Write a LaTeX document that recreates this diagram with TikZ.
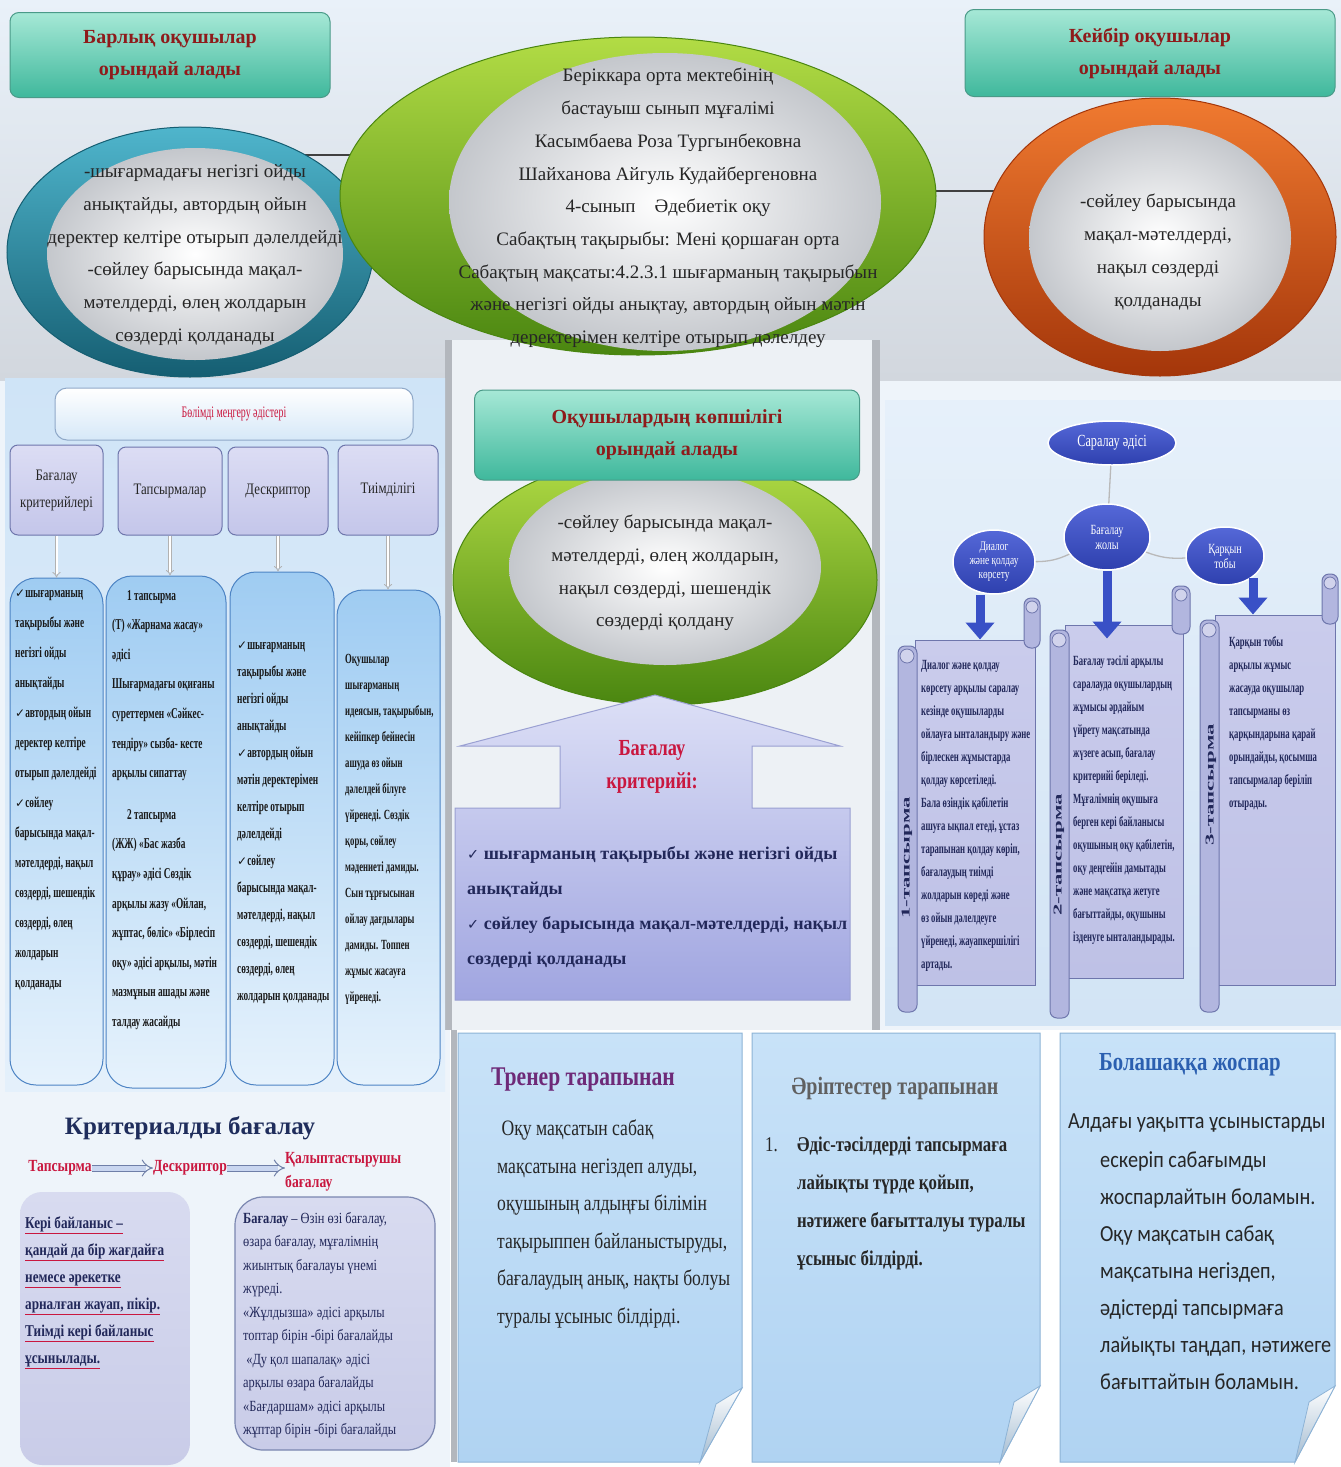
\documentclass[tikz,border=0pt]{standalone}
\usepackage{fontspec}
\usepackage{graphicx}
\setmainfont{Liberation Serif}
\newfontfamily\fcond[FakeStretch=0.8]{Liberation Serif}
\newfontfamily\fmid[FakeStretch=0.72]{Liberation Serif}
\newfontfamily\fnarrow[FakeStretch=0.62]{Liberation Serif}
\newfontfamily\fwide[FakeStretch=1.9]{Liberation Serif}
\newfontfamily\fsans[FakeStretch=0.88]{Carlito}
\newfontfamily\fdj{DejaVu Sans}
\usetikzlibrary{shapes.geometric,arrows.meta}
\newcommand\chk{\scalebox{0.8}{\fdj ✓}}
\newcommand\fsz[2]{\fontsize{#1}{#2}\selectfont}

\definecolor{bgAll}{HTML}{EEF4FA}
\definecolor{bandTop}{HTML}{E9F1F9}
\definecolor{bandBot}{HTML}{D2D7DE}
\definecolor{midCol}{HTML}{EDF1F5}
\definecolor{barGray}{HTML}{B3B7BD}
\definecolor{leftTop}{HTML}{CFE4F7}
\definecolor{leftBot}{HTML}{E4F0FB}
\definecolor{rightTop}{HTML}{E6F0FA}
\definecolor{rightBot}{HTML}{D2E4F5}
\definecolor{hdrTop}{HTML}{A6E8D6}
\definecolor{hdrBot}{HTML}{3FB89C}
\definecolor{hdrBorder}{HTML}{4A9A88}
\definecolor{hdrText}{HTML}{8E1B1B}
\definecolor{tealTop}{HTML}{4FB5CC}
\definecolor{tealDark}{HTML}{155E72}
\definecolor{greenTop}{HTML}{B2DC45}
\definecolor{greenDark}{HTML}{4A8610}
\definecolor{orangeTop}{HTML}{F07A30}
\definecolor{orangeDark}{HTML}{A4360A}
\definecolor{innerGray}{HTML}{C4C7CC}
\definecolor{lavTop}{HTML}{DCDDF4}
\definecolor{lavFill}{HTML}{C4C6EA}
\definecolor{lavBorder}{HTML}{6E76AC}
\definecolor{secBorder}{HTML}{8FA8C8}
\definecolor{secBot}{HTML}{D6E8F8}
\definecolor{colTop}{HTML}{9FCCF2}
\definecolor{colBot}{HTML}{E6F2FC}
\definecolor{colBorder}{HTML}{4D84C4}
\definecolor{navyTop}{HTML}{5568D8}
\definecolor{navyE}{HTML}{2E40AE}
\definecolor{navyText}{HTML}{22285A}
\definecolor{critRed}{HTML}{C9173F}
\definecolor{calTop}{HTML}{DCDFF6}
\definecolor{calBot}{HTML}{A0A5E0}
\definecolor{calBorder}{HTML}{9AA0D2}
\definecolor{scrTop}{HTML}{CACCEC}
\definecolor{scrBot}{HTML}{BEC1E6}
\definecolor{scrRoll}{HTML}{B2B6DF}
\definecolor{arrBlue}{HTML}{3950C6}
\definecolor{titleNavy}{HTML}{1F2D5C}
\definecolor{hollowB}{HTML}{6F7FA8}
\definecolor{hollowF}{HTML}{C9D6F0}
\definecolor{kbTop}{HTML}{D8DBF0}
\definecolor{kbBot}{HTML}{C9CCE8}
\definecolor{bgBorder}{HTML}{7A86B0}
\definecolor{noteTop}{HTML}{C8E2F8}
\definecolor{noteBot}{HTML}{B0D3F2}
\definecolor{noteBorder}{HTML}{8DB3D6}
\definecolor{trnCol}{HTML}{6E2A78}
\definecolor{planBlue}{HTML}{2B5FB0}

\newcommand\rul[1]{\textcolor{critRed}{\underline{\textcolor{navyText}{#1}}}}

\begin{document}
\begin{tikzpicture}[x=1pt,y=-1pt,
  hdr/.style={draw=hdrBorder, line width=1pt, rounded corners=9pt, top color=hdrTop, bottom color=hdrBot, inner sep=0pt, align=center, text=hdrText, font=\bfseries\fsz{20}{32}},
  ringT/.style={ellipse, draw=tealDark, line width=1pt, top color=tealTop, bottom color=tealDark, inner sep=0pt},
  ringG/.style={ellipse, draw=greenDark, line width=1pt, top color=greenTop, bottom color=greenDark, inner sep=0pt},
  ringO/.style={ellipse, draw=orangeDark, line width=1pt, top color=orangeTop, bottom color=orangeDark, inner sep=0pt},
  innerE/.style={ellipse, inner color=white, outer color=innerGray, inner sep=0pt},
  ringtext/.style={align=center, inner sep=0pt, text=black!85, font=\fsz{19}{32.7}},
  secthdr/.style={draw=secBorder, line width=1pt, rounded corners=12pt, top color=white, bottom color=secBot, text=critRed, font=\fnarrow\fsz{16}{18}},
  lavbox/.style={draw=lavBorder, line width=1pt, rounded corners=8pt, top color=lavTop, bottom color=lavFill, align=center, inner sep=0pt, text=black!85, font=\fcond\fsz{16}{27}},
  colbox/.style={draw=colBorder, line width=1pt, rounded corners=26pt, top color=colTop, bottom color=colBot, inner sep=0pt},
  coltext/.style={anchor=north west, align=left, inner sep=0pt, text=black!90, font=\fnarrow\bfseries\fsz{15}{30}},
  downarr/.style={draw=gray!60, line width=0.8pt, double=white, double distance=2pt, -{Implies}},
  callout/.style={draw=calBorder, line width=1pt, top color=calTop, bottom color=calBot},
  crit/.style={align=center, text=critRed, font=\fcond\bfseries\fsz{23}{33}, inner sep=0pt},
  cbtext/.style={anchor=north west, align=left, inner sep=0pt, text=navyText, font=\bfseries\fsz{18}{35}},
  navyell/.style={ellipse, draw=white, line width=1.5pt, top color=navyTop, bottom color=navyE, text=white, align=center, inner sep=0pt, font=\fmid\fsz{14}{15}},
  conn/.style={draw=gray!55, line width=1.3pt},
  bigarr/.style={draw=arrBlue, line width=9pt, -{Triangle[length=17pt,width=28pt]}},
  scrollbody/.style={draw=lavBorder, line width=1pt, top color=scrTop, bottom color=scrBot, inner sep=0pt},
  rollst/.style={draw=lavBorder, line width=1pt, fill=scrRoll, rounded corners=7pt},
  curlst/.style={draw=lavBorder, line width=0.8pt, fill=scrRoll!60!white},
  vlabel/.style={rotate=90, font=\fwide\bfseries\fsz{12}{12}, text=navyText, inner sep=0pt},
  scrtext/.style={anchor=north west, align=left, inner sep=0pt, text=navyText, font=\fnarrow\bfseries\fsz{14}{23}},
  titlest/.style={text=titleNavy, font=\bfseries\fsz{25}{28}, inner sep=0pt},
  redlbl/.style={text=critRed, font=\fcond\bfseries\fsz{17}{22}, inner sep=0pt, align=left},
  hollowarr/.style={draw=hollowB, line width=1pt, double=hollowF, double distance=5pt, -{Implies}},
  kbbox/.style={rounded corners=22pt, top color=kbTop, bottom color=kbBot, inner sep=0pt},
  bgbox/.style={draw=bgBorder, line width=1.2pt, rounded corners=28pt, top color=kbTop, bottom color=kbBot, inner sep=0pt},
  kbtext/.style={anchor=north west, align=left, inner sep=0pt, text=navyText, font=\fcond\bfseries\fsz{16.5}{27}},
  bgtext/.style={anchor=north west, align=left, inner sep=0pt, text=navyText, font=\fcond\fsz{15.5}{23.5}},
  notest/.style={draw=noteBorder, line width=1pt, top color=noteTop, bottom color=noteBot},
  foldst/.style={draw=noteBorder, line width=0.8pt, top color=white, bottom color=noteBot!70!gray},
  notetext/.style={anchor=north west, align=left, inner sep=0pt, text=black!85, font=\fcond\fsz{22}{37.5}}
]
\useasboundingbox (0,0) rectangle (1341,1467);

% ---------- backgrounds
\fill[bgAll] (0,0) rectangle (1341,1467);
\shade[top color=bandTop, bottom color=bandBot] (0,0) rectangle (1341,380);
\fill[midCol] (452,340) rectangle (872,1030);
\fill[barGray] (445,340) rectangle (452,1030);
\fill[barGray] (872,340) rectangle (880,1030);
\shade[top color=leftTop, bottom color=leftBot] (5,378) rectangle (445,1092);
\shade[top color=rightTop, bottom color=rightBot] (885,400) rectangle (1341,1025);
\fill[bgAll] (0,1092) rectangle (450,1467);
\fill[white] (450,1030) rectangle (1341,1467);
\fill[barGray] (451,1030) rectangle (457,1462);

% ---------- small joins between the rings
\coordinate (j1a) at (300,155); \coordinate (j1b) at (420,155);
\coordinate (j2a) at (900,191); \coordinate (j2b) at (1020,191);
\draw[gray!50!black, line width=1.2pt] (j1a) -- (j1b);
\draw[gray!50!black, line width=1.2pt] (j2a) -- (j2b);

% ---------- top-left ring
\node[ringT, minimum width=366pt, minimum height=250pt] (tring) at (190,252) {};
\node[innerE, minimum width=296pt, minimum height=212pt] (tin) at (195,254) {};
\node[ringtext] (ttext) at (195,255) {-шығармадағы негізгі ойды\\анықтайды, автордың ойын\\деректер келтіре отырып дәлелдейді\\-сөйлеу барысында мақал-\\мәтелдерді, өлең жолдарын\\сөздерді қолданады};

% ---------- center ring
\node[ringG, minimum width=596pt, minimum height=318pt] (gring) at (638,196) {};
\node[innerE, minimum width=432pt, minimum height=298pt] (gin) at (665,202) {};
\node[ringtext] (gtext) at (668,208) {Беріккара орта мектебінің\\бастауыш сынып мұғалімі\\Касымбаева Роза Тургынбековна\\Шайханова Айгуль Кудайбергеновна\\4-сынып\quad Әдебиетік оқу\\Сабақтың тақырыбы: Мені қоршаған орта\\Сабақтың мақсаты:4.2.3.1 шығарманың тақырыбын\\және негізгі ойды анықтау, автордың ойын мәтін\\деректерімен келтіре отырып дәлелдеу};

% ---------- right ring
\node[ringO, minimum width=352pt, minimum height=278pt] (oring) at (1160,237) {};
\node[innerE, minimum width=262pt, minimum height=226pt] (oin) at (1160,238) {};
\node[ringtext] (otext) at (1158,252) {-сөйлеу барысында\\мақал-мәтелдерді,\\нақыл сөздерді\\қолданады};

% ---------- top headers
\node[hdr, minimum width=320pt, minimum height=85pt] (hall) at (170,55) {Барлық оқушылар\\орындай алады};
\node[hdr, minimum width=370pt, minimum height=87pt] (hsome) at (1150,53) {Кейбір оқушылар\\орындай алады};

% ---------- center middle
\node[ringG, minimum width=424pt, minimum height=250pt] (g2ring) at (665,580) {};
\node[innerE, minimum width=312pt, minimum height=196pt] (g2in) at (665,567) {};
\node[ringtext] (g2text) at (665,573) {-сөйлеу барысында мақал-\\мәтелдерді, өлең жолдарын,\\нақыл сөздерді, шешендік\\сөздерді қолдану};
\node[hdr, minimum width=385pt, minimum height=90pt] (hmost) at (667,435) {Оқушылардың көпшілігі\\орындай алады};

\path[callout] (655,695) -- (840,746) -- (752,746) -- (752,808) -- (850,808) -- (850,1000) -- (455,1000) -- (455,808) -- (560,808) -- (560,746) -- (460,746) -- cycle;
\node[crit] (critT) at (652,767) {Бағалау\\критерийі:};
\node[cbtext] (critL) at (467,846) {\chk\ шығарманың тақырыбы және негізгі ойды\\анықтайды\\\chk\ сөйлеу барысында мақал-мәтелдерді, нақыл\\сөздерді қолданады};

% ---------- left middle section
\node[secthdr, minimum width=358pt, minimum height=52pt] (bmh) at (234,414) {Бөлімді меңгеру әдістері};
\node[lavbox, minimum width=93pt, minimum height=90pt] (hb1) at (56.5,490) {Бағалау\\критерийлері};
\node[lavbox, minimum width=104pt, minimum height=88pt] (hb2) at (170,491) {Тапсырмалар};
\node[lavbox, minimum width=100pt, minimum height=88pt] (hb3) at (278,491) {Дескриптор};
\node[lavbox, minimum width=100pt, minimum height=90pt] (hb4) at (388,490) {Тиімділігі};

\node[colbox, minimum width=93pt, minimum height=507pt] (cb1) at (56.5,831.5) {};
\node[colbox, minimum width=120pt, minimum height=512pt] (cb2) at (166,832) {};
\node[colbox, minimum width=104pt, minimum height=513pt] (cb3) at (282,828.5) {};
\node[colbox, minimum width=103pt, minimum height=495pt] (cb4) at (388.5,837.5) {};

\draw[downarr] (hb1.south) -- (hb1.south |- cb1.north);
\draw[downarr] (hb2.south) -- (hb2.south |- cb2.north);
\draw[downarr] (hb3.south) -- (hb3.south |- cb3.north);
\draw[downarr] (hb4.south) -- (hb4.south |- cb4.north);

\node[coltext] (ct1) at (15,590) {\chk шығарманың\\тақырыбы және\\негізгі ойды\\анықтайды\\\chk автордың ойын\\деректер келтіре\\отырып дәлелдейді\\\chk сөйлеу\\барысында мақал-\\мәтелдерді, нақыл\\сөздерді, шешендік\\сөздерді, өлең\\жолдарын\\қолданады};
\node[coltext, font=\fnarrow\bfseries\fsz{15}{29.6}] (ct2) at (112,590) {\quad 1 тапсырма\\(Т) «Жарнама жасау»\\әдісі\\Шығармадағы оқиғаны\\суреттермен «Сәйкес-\\тендіру» сызба- кесте\\арқылы сипаттау\\[12pt]\quad 2 тапсырма\\(ЖЖ) «Бас жазба\\құрау» әдісі Сөздік\\арқылы жазу «Ойлан,\\жұптас, бөліс» «Бірлесіп\\оқу» әдісі арқылы, мәтін\\мазмұнын ашады және\\талдау жасайды};
\node[coltext, font=\fnarrow\bfseries\fsz{15}{27}] (ct3) at (237,642) {\chk шығарманың\\тақырыбы және\\негізгі ойды\\анықтайды\\\chk автордың ойын\\мәтін деректерімен\\келтіре отырып\\дәлелдейді\\\chk сөйлеу\\барысында мақал-\\мәтелдерді, нақыл\\сөздерді, шешендік\\сөздерді, өлең\\жолдарын қолданады};
\node[coltext, font=\fnarrow\bfseries\fsz{14}{26}] (ct4) at (345,654) {Оқушылар\\шығарманың\\идеясын, тақырыбын,\\кейіпкер бейнесін\\ашуда өз ойын\\дәлелдей білуге\\үйренеді. Сөздік\\қоры, сөйлеу\\мәдениеті дамиды.\\Сын тұрғысынан\\ойлау дағдылары\\дамиды. Топпен\\жұмыс жасауға\\үйренеді.};

% ---------- right middle section
\node[scrollbody, minimum width=120pt, minimum height=345pt] (s1) at (975,812.5) {};
\path[rollst] (898,646) rectangle (917,1012);
\path[rollst] (1024,598) rectangle (1040,648);
\draw[curlst] (907,656) circle[radius=7];
\draw[curlst] (1032,607) circle[radius=6];
\node[vlabel] (lb1) at (907,858) {1-тапсырма};
\node[scrtext] (st1) at (921,660) {Диалог және қолдау\\көрсету арқылы саралау\\кезінде оқушыларды\\ойлауға ынталандыру және\\бірлескен жұмыстарда\\қолдау көрсетіледі.\\Бала өзіндік қабілетін\\ашуға ықпал етеді, ұстаз\\тарапынан қолдау көріп,\\бағалаудың тиімді\\жолдарын көреді және\\өз ойын дәлелдеуге\\үйренеді, жауапкершілігі\\артады.};

\node[scrollbody, minimum width=118pt, minimum height=353pt] (s2) at (1124,801.5) {};
\path[rollst] (1050,630) rectangle (1069,1018);
\path[rollst] (1172,586) rectangle (1190,634);
\draw[curlst] (1059,640) circle[radius=7];
\draw[curlst] (1181,595) circle[radius=6];
\node[vlabel] (lb2) at (1059,855) {2-тапсырма};
\node[scrtext] (st2) at (1073,656) {Бағалау тәсілі арқылы\\саралауда оқушылардың\\жұмысы әрдайым\\үйрету мақсатында\\жүзеге асып, бағалау\\критерийі беріледі.\\Мұғалімнің оқушыға\\берген кері байланысы\\оқушының оқу қабілетін,\\оқу деңгейін дамытады\\және мақсатқа жетуге\\бағыттайды, оқушыны\\ізденуге ынталандырады.};

\node[scrollbody, minimum width=120pt, minimum height=370pt] (s3) at (1275,800) {};
\path[rollst] (1200,620) rectangle (1219,1012);
\path[rollst] (1322,574) rectangle (1338,624);
\draw[curlst] (1209,630) circle[radius=7];
\draw[curlst] (1330,583) circle[radius=6];
\node[vlabel] (lb3) at (1211,785) {3-тапсырма};
\node[scrtext] (st3) at (1229,636) {Қарқын тобы\\арқылы жұмыс\\жасауда оқушылар\\тапсырманы өз\\қарқындарына қарай\\орындайды, қосымша\\тапсырмалар беріліп\\отырады.};

\node[navyell, minimum width=128pt, minimum height=44pt, font=\fmid\fsz{17}{17}] (E0) at (1112,443) {Саралау әдісі};
\node[navyell, minimum width=86pt, minimum height=66pt] (E2) at (1107,537) {Бағалау\\жолы};
\node[navyell, minimum width=82pt, minimum height=64pt, font=\fmid\fsz{13}{14}] (E1) at (994,562) {Диалог\\және қолдау\\көрсету};
\node[navyell, minimum width=78pt, minimum height=58pt] (E3) at (1225,556) {Қарқын\\тобы};
\draw[conn] (E0) -- (E2);
\draw[conn] (E1) to[bend right=12] (E2);
\draw[conn] (E2) to[bend right=12] (E3);

\coordinate (e1s) at ([xshift=-14pt]E1.south);
\draw[bigarr] (e1s) -- (e1s |- s1.north);
\path (E2.south |- s2.north) coordinate (a2);
\draw[bigarr] (E2.south) -- ([yshift=-14pt]a2);
\coordinate (e3s) at ([xshift=28pt,yshift=8pt]E3.south);
\draw[bigarr] (e3s) -- (e3s |- s3.north);

% ---------- bottom left
\node[titlest] (crt) at (190,1128) {Критериалды бағалау};
\node[redlbl] (tsk) at (60,1168) {Тапсырма};
\node[redlbl] (dsc) at (190,1168) {Дескриптор};
\node[redlbl, anchor=west, font=\fcond\bfseries\fsz{17}{24}] (klp) at (285,1172) {Қалыптастырушы\\бағалау};
\draw[hollowarr] (tsk.east) -- (dsc.west);
\draw[hollowarr] (dsc.east) -- (dsc.east -| klp.west);

\node[kbbox, minimum width=170pt, minimum height=273pt] (kbb) at (105,1328.5) {};
\node[bgbox, minimum width=200pt, minimum height=253pt] (bgb) at (335,1323.5) {};
\node[kbtext] (kbt) at (25,1216) {\rul{Кері байланыс –}\\\rul{қандай да бір жағдайға}\\\rul{немесе әрекетке}\\\rul{арналған жауап, пікір.}\\\rul{Тиімді кері байланыс}\\\rul{ұсынылады.}};
\node[bgtext] (bgt) at (243,1212) {\textbf{Бағалау} – Өзін өзі бағалау,\\өзара бағалау, мұғалімнің\\жиынтық бағалауы үнемі\\жүреді.\\«Жұлдызша» әдісі арқылы\\топтар бірін -бірі бағалайды\\\ «Ду қол шапалақ» әдісі\\арқылы өзара бағалайды\\«Бағдаршам» әдісі арқылы\\жұптар бірін -бірі бағалайды};

% ---------- bottom notes
\path[notest] (458,1033) -- (742,1033) -- (742,1388) -- (700,1462) -- (458,1462) -- cycle;
\path[foldst] (742,1388) -- (700,1462) -- (716,1404) -- cycle;
\path[notest] (752,1033) -- (1040,1033) -- (1040,1386) -- (1000,1462) -- (752,1462) -- cycle;
\path[foldst] (1040,1386) -- (1000,1462) -- (1014,1402) -- cycle;
\path[notest] (1060,1033) -- (1335,1033) -- (1335,1386) -- (1295,1462) -- (1060,1462) -- cycle;
\path[foldst] (1335,1386) -- (1295,1462) -- (1309,1402) -- cycle;

\node[text=trnCol, font=\fcond\bfseries\fsz{27}{30}, inner sep=0pt] (trn) at (583,1080) {Тренер тарапынан};
\node[notetext] (trnT) at (497,1120) {\ Оқу мақсатын сабақ\\мақсатына негіздеп алуды,\\оқушының алдыңғы білімін\\тақырыппен байланыстыруды,\\бағалаудың анық, нақты болуы\\туралы ұсыныс білдірді.};

\node[text=gray!75!black, font=\fcond\bfseries\fsz{25}{28}, inner sep=0pt] (ari) at (895,1088) {Әріптестер тарапынан};
\node[notetext, font=\fcond\fsz{21}{38}] (num) at (765,1137) {1.};
\node[notetext, font=\fcond\bfseries\fsz{21}{38}] (ariT) at (797,1137) {Әдіс-тәсілдерді тапсырмаға\\лайықты түрде қойып,\\нәтижеге бағытталуы туралы\\ұсыныс білдірді.};

\node[text=planBlue, font=\fcond\bfseries\fsz{26}{28}, inner sep=0pt] (pln) at (1190,1065) {Болашаққа жоспар};
\node[notetext, font=\fsans\fsz{23}{37}] (plnA) at (1068,1114) {Алдағы уақытта ұсыныстарды};
\node[notetext, font=\fsans\fsz{23}{37}] (plnB) at (1100,1151) {ескеріп сабағымды\\жоспарлайтын боламын.\\Оқу мақсатын сабақ\\мақсатына негіздеп,\\әдістерді тапсырмаға\\лайықты таңдап, нәтижеге\\бағыттайтын боламын.};
\end{tikzpicture}
\end{document}
